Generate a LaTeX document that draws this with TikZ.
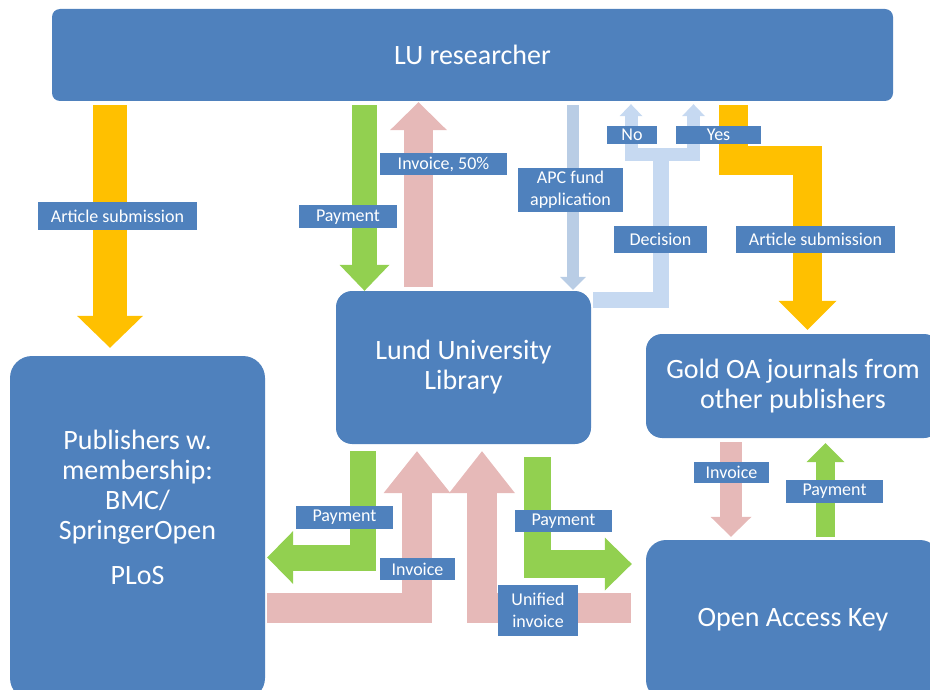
\documentclass[tikz,border=0pt]{standalone}
\usepackage{fontspec}
\setmainfont{Carlito}
\usetikzlibrary{arrows.meta}
\definecolor{boxblue}{HTML}{4F81BD}
\definecolor{gold}{HTML}{FFC000}
\definecolor{lime}{HTML}{92D050}
\definecolor{rose}{HTML}{E6B9B8}
\definecolor{apcblue}{HTML}{B9CDE5}
\definecolor{decblue}{HTML}{C6D9F1}
\begin{document}
\begin{tikzpicture}[x=1pt,y=-1pt,line join=miter,
    blockhead/.style 2 args={-{Triangle[length=#1,width=#2,line width=0pt]}}]
    \tikzstyle{box}=[rectangle,fill=boxblue,text=white,align=center,inner sep=0pt,
        font=\fontsize{28}{30}\selectfont]
    \tikzstyle{tag}=[rectangle,fill=boxblue,text=white,align=center,inner sep=0pt,
        font=\fontsize{18}{22}\selectfont]

    \useasboundingbox (0,0) rectangle (930,690);
    \clip (0,0) rectangle (930,690);

    % main boxes
    \node[box,rounded corners=8pt,minimum width=841pt,minimum height=92pt] (LU) at (472.5,55) {LU researcher};
    \node[box,rounded corners=16pt,minimum width=255pt,minimum height=153pt] (Lib) at (463.5,367.5) {Lund University\\Library};
    \node[box,rounded corners=22pt,minimum width=255pt,minimum height=344pt,text depth=41pt] (Pub) at (137.5,528)
        {Publishers w.\\membership:\\BMC/\\SpringerOpen\\[15pt]PLoS};
    \node[box,rounded corners=16pt,minimum width=294pt,minimum height=104pt] (Gold) at (793,386) {Gold OA journals from\\other publishers};
    \node[box,rounded corners=20pt,minimum width=294pt,minimum height=160pt] (OAK) at (793,620) {Open Access Key};

    % researcher to the library and the publishers
    \draw[draw=gold,line width=34pt,blockhead={32pt}{66pt},shorten <=4pt,shorten >=8pt]
        (LU.south -| 110,0) -- (Pub.north -| 110,0);
    \draw[draw=lime,line width=25pt,blockhead={26pt}{50pt},shorten <=4pt]
        (LU.south -| 364.5,0) -- (Lib.north -| 364.5,0);
    \draw[draw=rose,line width=29pt,blockhead={28pt}{57pt},shorten <=4pt,shorten >=1pt]
        (Lib.north -| 418.5,0) -- (LU.south -| 418.5,0);
    \draw[draw=apcblue,line width=12pt,blockhead={13pt}{26pt},shorten <=4pt,shorten >=1pt]
        (LU.south -| 573,0) -- (Lib.north -| 573,0);

    % decision, forked into no and yes
    \coordinate (fork) at (660.5,154.5);
    \draw[draw=decblue,line width=16pt,shorten <=2pt] (Lib.east |- 0,300) -| (fork);
    \foreach \x in {631,693.5}
    \draw[draw=decblue,line width=13pt,blockhead={12pt}{23pt},shorten >=3pt]
        (fork) -| (LU.south -| \x,0);

    % yes: submission to other publishers
    \coordinate (bend) at (807.5,161);
    \draw[draw=gold,line width=29pt,blockhead={29pt}{58pt},shorten <=4pt,shorten >=4pt]
        (LU.south -| 733.5,0) |- (bend) -- (Gold.north -| bend);

    % other publishers and the Open Access Key
    \draw[draw=rose,line width=22pt,blockhead={20pt}{41pt},shorten <=4pt,shorten >=3pt]
        (Gold.south -| 731,0) -- (OAK.north -| 731,0);
    \draw[draw=lime,line width=19pt,blockhead={19pt}{38pt},shorten <=3pt,shorten >=5pt]
        (OAK.north -| 825.5,0) -- (Gold.south -| 825.5,0);

    % library, members and the Open Access Key
    \draw[draw=lime,line width=26pt,blockhead={26pt}{53pt},shorten <=7pt,shorten >=2pt]
        (Lib.south -| 362.5,0) |- (Pub.east |- 0,557.5);
    \draw[draw=rose,line width=30pt,blockhead={42pt}{67pt},shorten <=2pt,shorten >=7pt]
        (Pub.east |- 0,608) -| (Lib.south -| 417,0);
    \draw[draw=rose,line width=30pt,blockhead={42pt}{66pt},shorten <=15pt,shorten >=7pt]
        (OAK.west |- 0,608) -| (Lib.south -| 482,0);
    \draw[draw=lime,line width=27.5pt,blockhead={27pt}{53pt},shorten <=13pt,shorten >=14pt]
        (Lib.south -| 537.5,0) |- (OAK.west |- 0,564);

    % labels
    \node[tag,minimum width=159pt,minimum height=28pt] (sub-L) at (117.5,216) {Article submission};
    \node[tag,minimum width=98pt,minimum height=23pt] (pay-T) at (348,217) {Payment};
    \node[tag,minimum width=127pt,minimum height=22pt] (inv-T) at (443.5,164) {Invoice, 50\%};
    \node[tag,minimum width=105pt,minimum height=44pt] (apc) at (570.5,190) {APC fund\\application};
    \node[tag,minimum width=50pt,minimum height=18pt] (no) at (632,135) {No};
    \node[tag,minimum width=85pt,minimum height=18pt] (yes) at (718.5,135) {Yes};
    \node[tag,minimum width=93pt,minimum height=27pt] (dec) at (660.5,239.5) {Decision};
    \node[tag,minimum width=159pt,minimum height=27pt] (sub-R) at (815.5,239.5) {Article submission};
    \node[tag,minimum width=75pt,minimum height=21pt] (inv-R) at (731.5,472.5) {Invoice};
    \node[tag,minimum width=97pt,minimum height=23pt] (pay-R) at (834.5,491.5) {Payment};
    \node[tag,minimum width=97pt,minimum height=23pt] (pay-BL) at (344.5,517.5) {Payment};
    \node[tag,minimum width=75pt,minimum height=22pt] (inv-B) at (417.5,569) {Invoice};
    \node[tag,minimum width=97pt,minimum height=22pt] (pay-BR) at (563.5,521) {Payment};
    \node[tag,minimum width=80pt,minimum height=51pt] (uni) at (538,610.5) {Unified\\invoice};
\end{tikzpicture}
\end{document}
